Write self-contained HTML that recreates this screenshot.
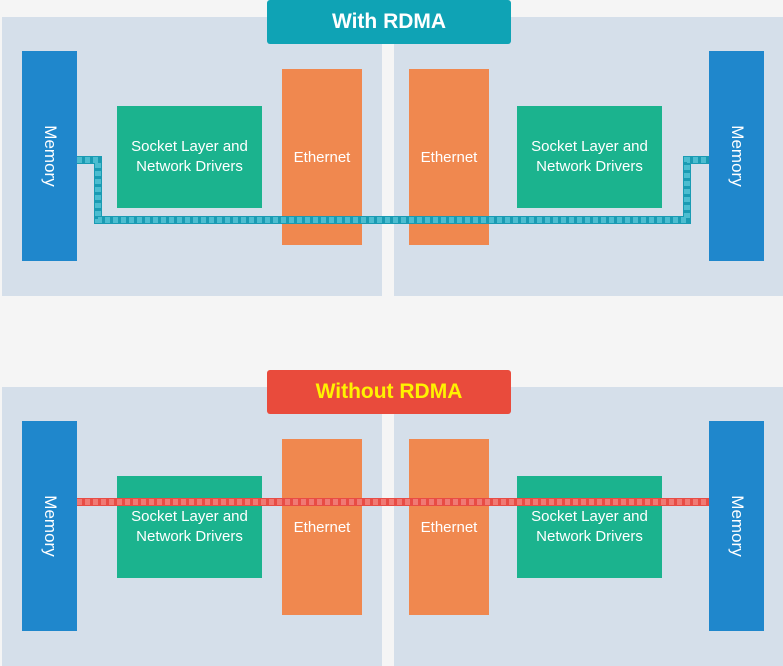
<!DOCTYPE html>
<html><head><style>
body{margin:0;width:783px;height:666px;background:#f5f5f5;position:relative;overflow:hidden;font-family:"Liberation Sans","DejaVu Sans",sans-serif}
div{position:absolute;box-sizing:border-box}
.panel{background:#d5dfea}
.mem{background:#1f87cc;width:55px;height:210px;color:#fff;font-size:17px}
.mem span{position:absolute;left:50%;top:50%;transform:translate(-50%,-50%) rotate(90deg);white-space:nowrap}
.sock{background:#1bb38e;width:145px;height:102px;color:#fff;font-size:15px;display:flex;align-items:center;justify-content:center;text-align:center;line-height:20px}
.eth{background:#f0884f;width:80px;height:176px;color:#fff;font-size:15px;display:flex;align-items:center;justify-content:center}
.title{left:267px;width:244px;height:44px;border-radius:3px;font-weight:bold;font-size:21px;display:flex;align-items:center;justify-content:center;font-family:"Liberation Sans",sans-serif}
</style></head><body>
<div class="panel" style="left:2px;top:17px;width:380px;height:279px"></div>
<div class="panel" style="left:394px;top:17px;width:389px;height:279px"></div>
<div class="panel" style="left:2px;top:387px;width:380px;height:279px"></div>
<div class="panel" style="left:394px;top:387px;width:389px;height:279px"></div>

<div class="mem" style="left:22px;top:51px"><span>Memory</span></div>
<div class="mem" style="left:709px;top:51px"><span>Memory</span></div>
<div class="sock" style="left:117px;top:106px"><span>Socket Layer and<br>Network Drivers</span></div>
<div class="sock" style="left:517px;top:106px"><span>Socket Layer and<br>Network Drivers</span></div>
<div class="eth" style="left:282px;top:69px"><span>Ethernet</span></div>
<div class="eth" style="left:409px;top:69px"><span>Ethernet</span></div>

<svg style="position:absolute;left:0;top:0" width="783" height="666">
<polyline points="77,160 98,160 98,220 687,220 687,160 709,160" fill="none" stroke="#1a9bb3" stroke-width="8"/>
<polyline points="77,160 98,160 98,220 687,220 687,160 709,160" fill="none" stroke="#4cbdd0" stroke-width="6" stroke-dasharray="5,3"/>
</svg>

<div class="title" style="top:0;background:#0fa3b5;color:#fff">With RDMA</div>

<div class="mem" style="left:22px;top:421px"><span>Memory</span></div>
<div class="mem" style="left:709px;top:421px"><span>Memory</span></div>
<div class="sock" style="left:117px;top:476px"><span>Socket Layer and<br>Network Drivers</span></div>
<div class="sock" style="left:517px;top:476px"><span>Socket Layer and<br>Network Drivers</span></div>
<div class="eth" style="left:282px;top:439px"><span>Ethernet</span></div>
<div class="eth" style="left:409px;top:439px"><span>Ethernet</span></div>
<svg style="position:absolute;left:0;top:0" width="783" height="666">
<line x1="77" y1="502" x2="709" y2="502" stroke="#e84c45" stroke-width="8"/>
<line x1="77" y1="502" x2="709" y2="502" stroke="#f07a74" stroke-width="6" stroke-dasharray="5,3"/>
</svg>
<div class="title" style="top:370px;background:#e94b3c;color:#fff200">Without RDMA</div>
</body></html>
